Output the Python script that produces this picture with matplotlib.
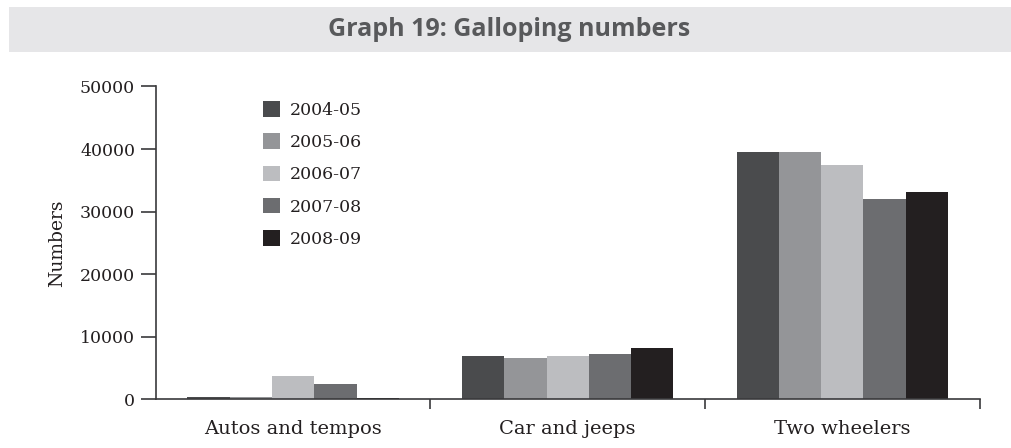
"""Graph 19: Galloping numbers - grouped bar chart of vehicle numbers."""

import matplotlib.pyplot as plt
from matplotlib.patches import Rectangle
import numpy as np

categories = ["Autos and tempos", "Car and jeeps", "Two wheelers"]
years = ["2004-05", "2005-06", "2006-07", "2007-08", "2008-09"]
values = {
    "2004-05": [350, 6870, 39600],
    "2005-06": [300, 6550, 39450],
    "2006-07": [3700, 6870, 37380],
    "2007-08": [2450, 7190, 31950],
    "2008-09": [150, 8150, 33070],
}
colors = ["#4a4b4d", "#949598", "#bcbdc0", "#6c6d70", "#231f20"]

serif = "DejaVu Serif"
figure = plt.figure(figsize=(10.12, 4.48), dpi=100)

# grey title banner
figure.patches.append(
    Rectangle((0.009, 0.885), 0.991, 0.099, transform=figure.transFigure,
              facecolor="#e6e6e8", edgecolor="none", zorder=0)
)
figure.text(0.503, 0.934, "Graph 19: Galloping numbers", ha="center",
            va="center", fontsize=18, fontweight="bold",
            family="Open Sans", color="#58595b")

axis = figure.add_axes([0.154, 0.109, 0.814, 0.698])
x = np.arange(len(categories))
bar_width = 0.154
for index, (year, color) in enumerate(zip(years, colors)):
    offset = (index - 2) * bar_width
    axis.bar(x + offset, values[year], width=bar_width, color=color,
             label=year, linewidth=0)

axis.set_xlim(-0.5, len(categories) - 0.5)
axis.set_ylim(0, 50000)
axis.set_yticks(range(0, 50001, 10000))
axis.set_yticklabels([str(v) for v in range(0, 50001, 10000)],
                     family=serif, fontsize=12.5, color="#231f20")
axis.set_xticks(x)
axis.set_xticklabels(categories, family=serif, fontsize=14, color="#231f20")
axis.tick_params(axis="x", length=0, pad=15)
axis.set_xticks(np.arange(0.5, len(categories), 1.0), minor=True)
axis.tick_params(axis="x", which="minor", length=7, width=1.2,
                 color="#3a3a3c", direction="out")
axis.tick_params(axis="y", length=11, width=1.2, color="#3a3a3c", pad=4)
axis.set_ylabel("Numbers", family=serif, fontsize=13.5, color="#231f20",
                labelpad=10)

for side in ["top", "right"]:
    axis.spines[side].set_visible(False)
for side in ["left", "bottom"]:
    axis.spines[side].set_linewidth(1.2)
    axis.spines[side].set_color("#3a3a3c")

legend = axis.legend(loc="upper left", bbox_to_anchor=(0.253, 0.79),
                     bbox_transform=figure.transFigure, frameon=False,
                     handlelength=1.0, handleheight=1.0, handletextpad=0.55,
                     labelspacing=0.84, borderaxespad=0,
                     prop={"family": serif, "size": 12.5})
for text in legend.get_texts():
    text.set_color("#231f20")

figure.savefig("out.png", dpi=100)
plt.close(figure)
